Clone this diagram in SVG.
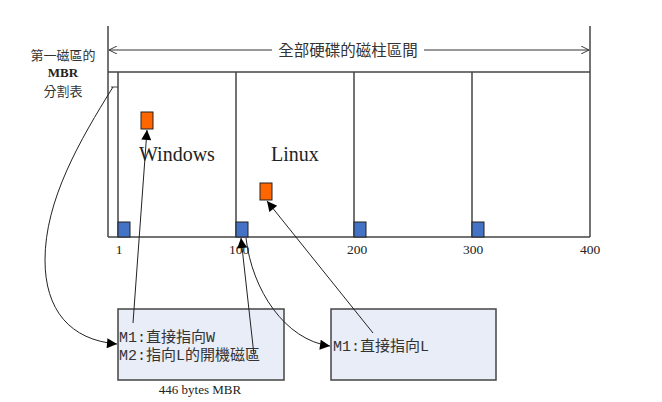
<svg xmlns="http://www.w3.org/2000/svg" width="662" height="402" viewBox="0 0 662 402">
<defs>
<style>
.frame{stroke:#444;stroke-width:1.5;fill:none}
.dim{stroke:#333;stroke-width:1;fill:none}
.con{stroke:#222;stroke-width:1;fill:none}
.blue{fill:#4472c4;stroke:#222;stroke-width:1}
.orange{fill:#ff6600;stroke:#222;stroke-width:1}
.box{fill:#e9edf7;stroke:#444;stroke-width:1.5}
.serif{font-family:"Liberation Serif","Times New Roman",serif;fill:#222}
.cjk{font-family:"Noto Sans CJK TC","Noto Sans CJK SC",sans-serif;fill:#333}
.mono{font-family:"Liberation Mono","Noto Sans CJK TC",monospace;fill:#333}
</style>
<marker id="open" viewBox="0 0 10 10" refX="10" refY="5" markerWidth="8" markerHeight="8" orient="auto-start-reverse" markerUnits="userSpaceOnUse">
<path d="M0,0 L10,5 L0,10" fill="none" stroke="#333" stroke-width="1.2"/>
</marker>
<marker id="fill" viewBox="0 0 10 10" refX="10" refY="5" markerWidth="12" markerHeight="10" orient="auto" markerUnits="userSpaceOnUse">
<path d="M0,0 L10,5 L0,10 z" fill="#000"/>
</marker>
</defs>

<g id="disk">
<line class="frame" x1="108" y1="26" x2="108" y2="237"/>
<line class="frame" x1="590" y1="26" x2="590" y2="237"/>
<line class="frame" x1="108" y1="72" x2="590" y2="72"/>
<line class="frame" x1="108" y1="237" x2="590" y2="237"/>
<line class="frame" x1="118" y1="72" x2="118" y2="237"/>
<line class="frame" x1="236" y1="72" x2="236" y2="237"/>
<line class="frame" x1="354" y1="72" x2="354" y2="237"/>
<line class="frame" x1="472" y1="72" x2="472" y2="237"/>
<line class="frame" x1="111" y1="87" x2="118" y2="87" style="stroke-width:1"/>
</g>

<g id="dimension">
<line class="dim" x1="109" y1="50" x2="589" y2="50" marker-start="url(#open)" marker-end="url(#open)"/>
<rect x="272" y="40" width="152" height="20" fill="#fff"/>
<text class="cjk" x="348" y="56" font-size="15.5" text-anchor="middle">全部硬碟的磁柱區間</text>
</g>

<g id="mbr-label">
<text class="cjk" x="63" y="60" font-size="13" text-anchor="middle">第一磁區的</text>
<text class="serif" x="63" y="76.5" font-size="13" font-weight="bold" text-anchor="middle">MBR</text>
<text class="cjk" x="63" y="96" font-size="13" text-anchor="middle">分割表</text>
</g>

<g id="blocks">
<rect class="blue" x="118" y="222" width="12" height="15"/>
<rect class="blue" x="236" y="222" width="12" height="15"/>
<rect class="blue" x="354" y="222" width="12" height="15"/>
<rect class="blue" x="472" y="222" width="12" height="15"/>
<rect class="orange" x="141" y="112" width="12" height="17"/>
<rect class="orange" x="260" y="183" width="12" height="17"/>
</g>

<g id="partition-labels">
<text class="serif" x="139" y="161" font-size="20">Windows</text>
<text class="serif" x="271" y="161" font-size="20">Linux</text>
</g>

<g id="axis-labels" class="serif" font-size="13.5" text-anchor="middle">
<text x="119" y="254">1</text>
<text x="239" y="254">100</text>
<text x="357" y="254">200</text>
<text x="473" y="254">300</text>
<text x="590" y="254">400</text>
</g>

<g id="box1">
<rect class="box" x="118" y="309" width="166" height="71"/>
<text class="mono" x="119" y="342" font-size="15">M1:直接指向W</text>
<text class="mono" x="119" y="360" font-size="15">M2:指向L的開機磁區</text>
<text class="serif" x="200" y="394" font-size="13" text-anchor="middle">446 bytes MBR</text>
</g>

<g id="box2">
<rect class="box" x="331" y="309" width="165" height="71"/>
<text class="mono" x="333" y="351" font-size="15">M1:直接指向L</text>
</g>

<g id="connectors">
<path class="con" d="M113,87 C80,140 45,200 45,260 C45,310 70,340 117,344" marker-end="url(#fill)"/>
<line class="con" x1="133" y1="323" x2="147" y2="130" marker-end="url(#fill)"/>
<line class="con" x1="254" y1="355" x2="241" y2="238" marker-end="url(#fill)"/>
<path class="con" d="M246,238 C252,290 285,340 330,346" marker-end="url(#fill)"/>
<line class="con" x1="373" y1="333" x2="267" y2="201" marker-end="url(#fill)"/>
</g>
</svg>
